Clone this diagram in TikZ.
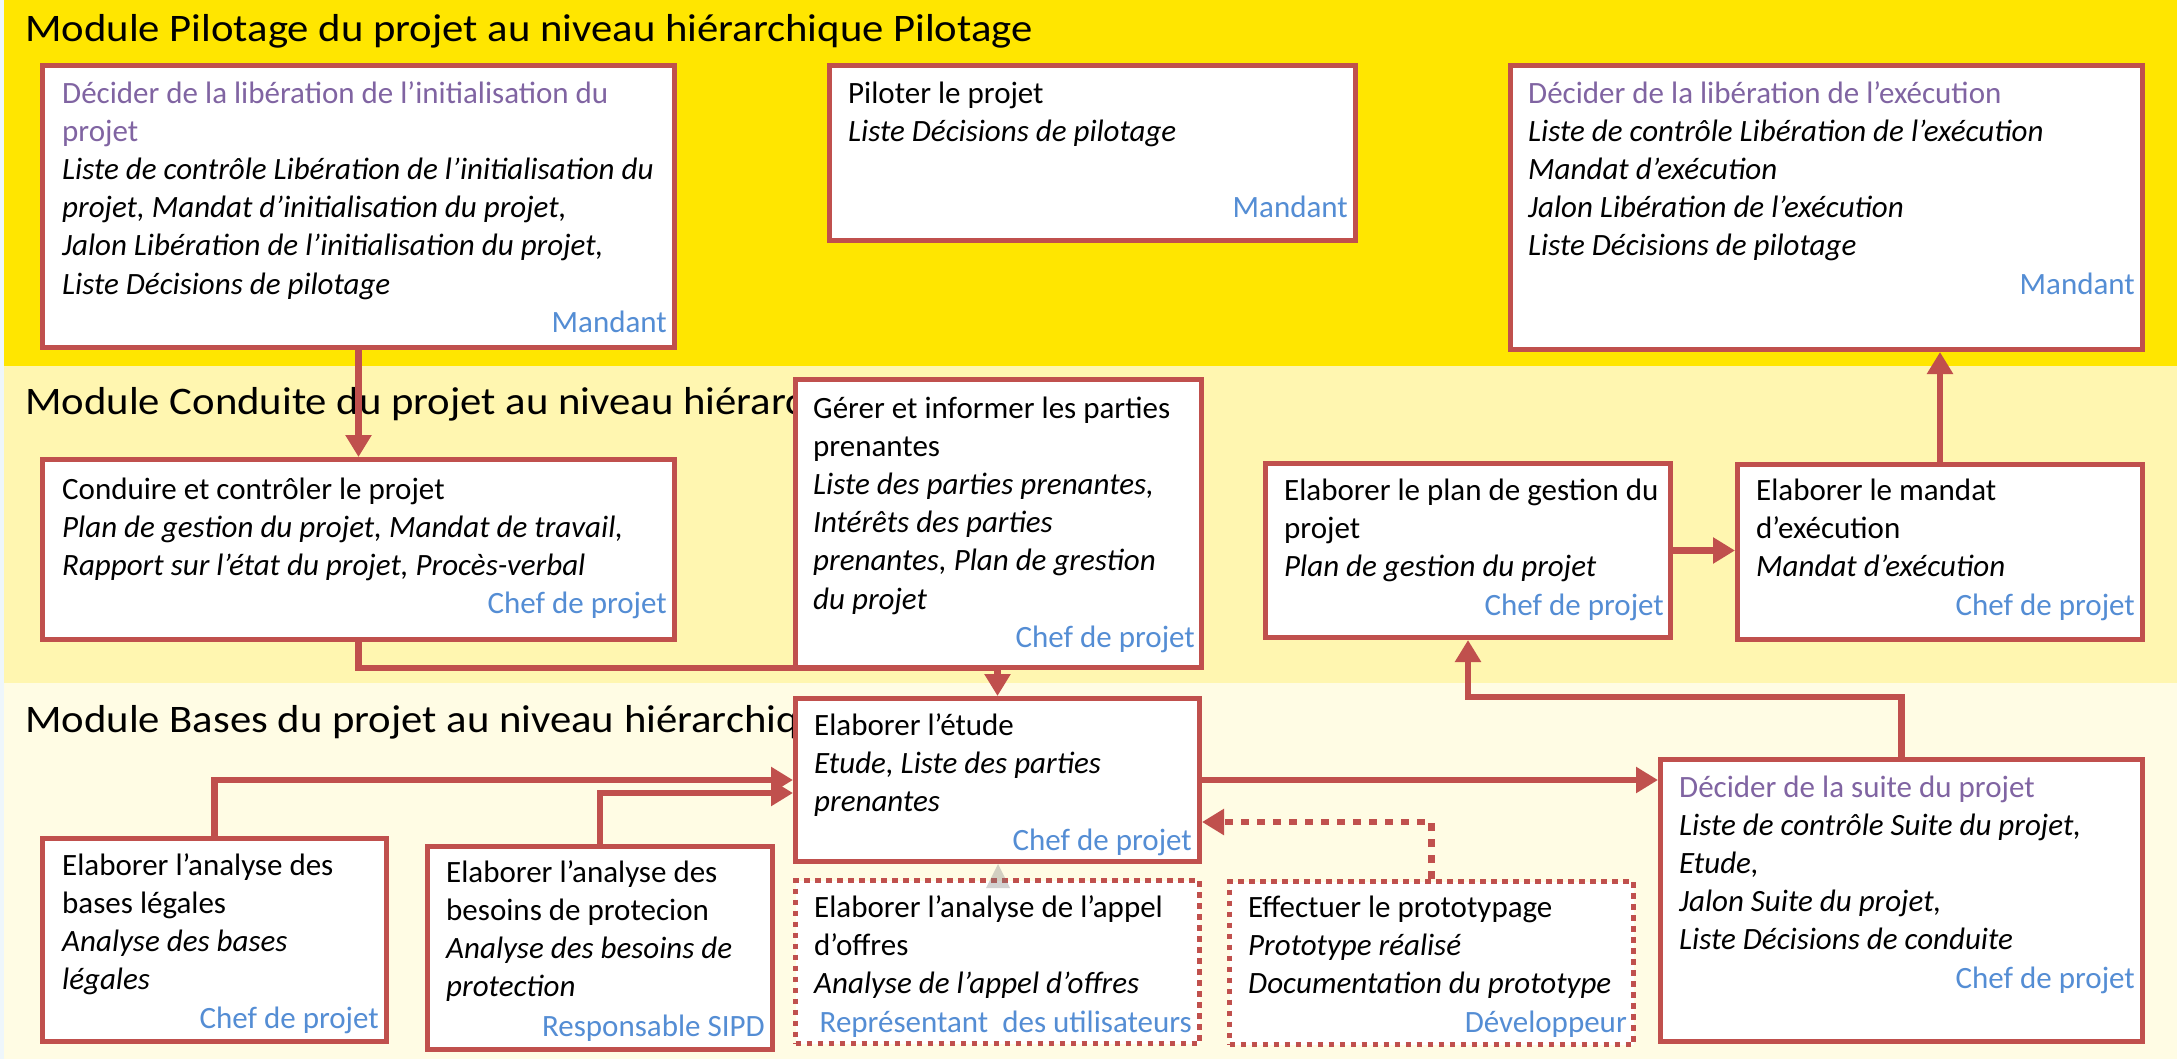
\documentclass[tikz,border=0pt]{standalone}
\usepackage{fontspec}
\setmainfont{Carlito}
\newfontfamily\bandfont[FakeStretch=1.095]{Carlito}
\usetikzlibrary{arrows.meta,calc}
\definecolor{bandA}{HTML}{FFE600}
\definecolor{bandB}{HTML}{FFF6B0}
\definecolor{bandC}{HTML}{FFFCE4}
\definecolor{stripc}{HTML}{EEF6FB}
\definecolor{boxred}{HTML}{C0504D}
\definecolor{titlepurple}{HTML}{8064A2}
\definecolor{roleblue}{HTML}{548DD4}
\newcommand\ptitle[1]{\textcolor{titlepurple}{#1}}
\newcommand\procbox[6]{\node[#6,minimum width={#4-#2-5}, minimum height={#5-#3-5}] (#1) at (#2,#3) {};}
\newcommand\boxtext[4]{\node[boxtxt] (#1) at (#2,{#3-26.8}) {#4};}
\newcommand\rolelbl[4]{\node[rolestyle] (#1) at (#2,#3) {#4};}
\begin{document}
\begin{tikzpicture}[x=1pt,y=-1pt,
  solidbox/.style={draw=boxred, line width=5pt, fill=white, inner sep=0pt, anchor=north west, rectangle},
  dotbox/.style={solidbox, dash pattern=on 5.5pt off 5.5pt},
  boxtxt/.style={anchor=north west, inner sep=0pt, align=left, font=\fontsize{31}{38.2}\selectfont},
  rolestyle/.style={anchor=base east, inner sep=0pt, text=roleblue, font=\fontsize{31}{38.2}\selectfont},
  bandtitle/.style={anchor=base west, inner sep=0pt, font=\bandfont\fontsize{39}{46}\selectfont},
  conn/.style={draw=boxred, line width=6.5pt, -{Triangle[width=25pt,length=22pt]}},
  dconn/.style={conn, dash pattern=on 8pt off 8pt}]
\useasboundingbox (0,0) rectangle (2177,1059);
% bands
\fill[bandA] (0,0) rectangle (2177,366);
\fill[bandB] (0,366) rectangle (2177,683);
\fill[bandC] (0,683) rectangle (2177,1059);
\fill[stripc] (0,0) rectangle (3.5,1059);
% band titles
\node[bandtitle] (T1) at (25,42) {Module Pilotage du projet au niveau hiérarchique Pilotage};
\begin{scope}
\clip (0,366) rectangle (793,683);
\node[bandtitle] (T2) at (25,414) {Module Conduite du projet au niveau hiérarc};
\end{scope}
\begin{scope}
\clip (0,683) rectangle (793,1059);
\node[bandtitle] (T3) at (25,732) {Module Bases du projet au niveau hiérarchiq};
\end{scope}
% boxes
\procbox{A}{40}{63}{677}{350}{solidbox}
\procbox{B}{827}{63}{1358}{243}{solidbox}
\procbox{C}{1508}{63}{2145}{352}{solidbox}
\procbox{D}{40}{457}{677}{642}{solidbox}
\procbox{F}{1263}{461}{1673}{640}{solidbox}
\procbox{G}{1735}{462}{2145}{642}{solidbox}
\procbox{H}{793}{696}{1202}{864}{solidbox}
\procbox{I}{40}{836}{389}{1044}{solidbox}
\procbox{J}{425}{844}{775}{1052}{solidbox}
\procbox{K}{793}{878}{1202}{1046}{dotbox}
\procbox{L}{1227}{879}{1636}{1047}{dotbox}
\procbox{M}{1658}{757}{2145}{1044}{solidbox}
% connectors
\draw[conn] (A.south) -- (A.south |- D.north);
\draw[conn] (D.south) -- ++(0,26) -| (H.north);
\draw[conn] (F.east) -- (F.east -| G.west);
\draw[conn] (G.north) -- (G.north |- C.south);
\draw[conn] (I.north) |- (H.west);
\draw[conn] (J.north) |- ([yshift=-13pt]H.west);
\draw[conn] (H.east) -- (H.east -| M.west);
\draw[conn] (M.north) -- ++(0,-60) -| (F.south);
\draw[dconn] (L.north) |- ([yshift=-42pt]H.east);
% box E drawn over the D-H connector
\procbox{E}{793}{377}{1204}{670}{solidbox}
% ghost arrow from K to H
\fill[gray, opacity=.35] (998,864) -- (1010,888) -- (986,888) -- cycle;
% texts
\boxtext{A-t}{62}{103}{\strut\ptitle{Décider de la libération de l’initialisation du}\\
\ptitle{projet}\\
\textit{Liste de contrôle Libération de l’initialisation du}\\
\textit{projet, Mandat d’initialisation du projet,}\\
\textit{Jalon Libération de l’initialisation du projet,}\\
\textit{Liste Décisions de pilotage}}
\rolelbl{A-r}{667}{333}{Mandant}
\boxtext{B-t}{848}{103}{\strut Piloter le projet\\
\textit{Liste Décisions de pilotage}}
\rolelbl{B-r}{1348}{218}{Mandant}
\boxtext{C-t}{1528}{103}{\strut\ptitle{Décider de la libération de l’exécution}\\
\textit{Liste de contrôle Libération de l’exécution}\\
\textit{Mandat d’exécution}\\
\textit{Jalon Libération de l’exécution}\\
\textit{Liste Décisions de pilotage}}
\rolelbl{C-r}{2135}{295}{Mandant}
\boxtext{D-t}{62}{499}{\strut Conduire et contrôler le projet\\
\textit{Plan de gestion du projet, Mandat de travail,}\\
\textit{Rapport sur l’état du projet, Procès-verbal}}
\rolelbl{D-r}{667}{613}{Chef de projet}
\boxtext{E-t}{813}{418}{\strut Gérer et informer les parties\\
prenantes\\
\textit{Liste des parties prenantes,}\\
\textit{Intérêts des parties}\\
\textit{prenantes, Plan de grestion}\\
\textit{du projet}}
\rolelbl{E-r}{1195}{647}{Chef de projet}
\boxtext{F-t}{1284}{500}{\strut Elaborer le plan de gestion du\\
projet\\
\textit{Plan de gestion du projet}}
\rolelbl{F-r}{1664}{615}{Chef de projet}
\boxtext{G-t}{1756}{500}{\strut Elaborer le mandat\\
d’exécution\\
\textit{Mandat d’exécution}}
\rolelbl{G-r}{2135}{615}{Chef de projet}
\boxtext{H-t}{814}{735}{\strut Elaborer l’étude\\
\textit{Etude, Liste des parties}\\
\textit{prenantes}}
\rolelbl{H-r}{1192}{850}{Chef de projet}
\boxtext{I-t}{62}{875}{\strut Elaborer l’analyse des\\
bases légales\\
\textit{Analyse des bases}\\
\textit{légales}}
\rolelbl{I-r}{379}{1028}{Chef de projet}
\boxtext{J-t}{446}{882}{\strut Elaborer l’analyse des\\
besoins de protecion\\
\textit{Analyse des besoins de}\\
\textit{protection}}
\rolelbl{J-r}{765}{1036}{Responsable SIPD}
\boxtext{K-t}{814}{917}{\strut Elaborer l’analyse de l’appel\\
d’offres\\
\textit{Analyse de l’appel d’offres}}
\rolelbl{K-r}{1192}{1032}{Représentant\ \ des utilisateurs}
\boxtext{L-t}{1248}{917}{\strut Effectuer le prototypage\\
\textit{Prototype réalisé}\\
\textit{Documentation du prototype}}
\rolelbl{L-r}{1627}{1032}{Développeur}
\boxtext{M-t}{1679}{797}{\strut\ptitle{Décider de la suite du projet}\\
\textit{Liste de contrôle Suite du projet,}\\
\textit{Etude,}\\
\textit{Jalon Suite du projet,}\\
\textit{Liste Décisions de conduite}}
\rolelbl{M-r}{2135}{988}{Chef de projet}
\end{tikzpicture}
\end{document}
